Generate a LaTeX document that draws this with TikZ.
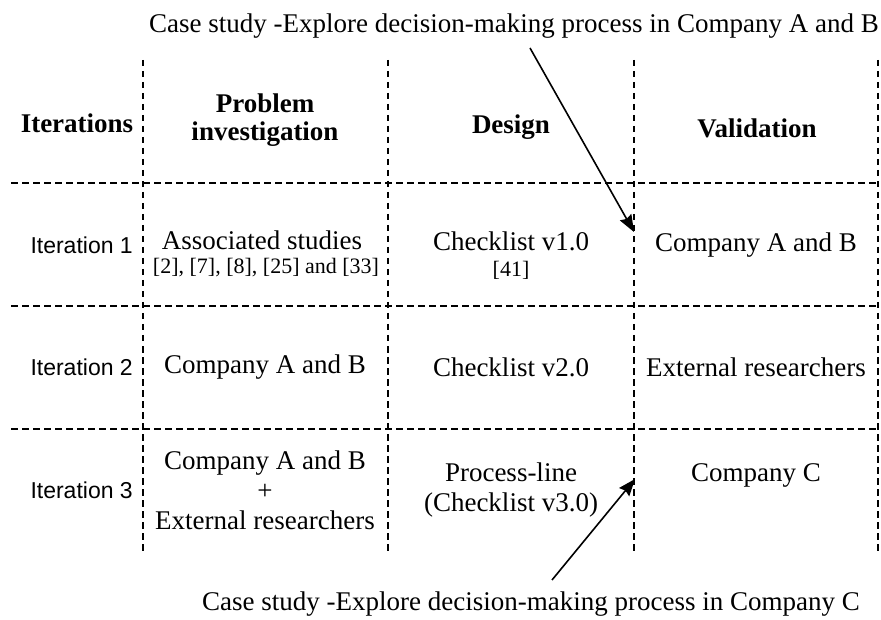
\documentclass[tikz,border=0pt]{standalone}
\usepackage{fontspec}
\setmainfont{Liberation Serif}
\newfontfamily\itfont{Liberation Sans}
\usetikzlibrary{arrows.meta}
\tikzset{
  grid/.style={line width=1.3pt, dash pattern=on 6.5pt off 4.5pt},
  body/.style={inner sep=0pt, align=center, font=\fontsize{27}{30}\selectfont},
  head/.style={inner sep=0pt, align=center, font=\fontsize{27}{28}\selectfont\bfseries},
  refs/.style={inner sep=0pt, align=center, font=\fontsize{22}{24}\selectfont},
  iterlab/.style={inner sep=0pt, anchor=east, font=\fontsize{23}{26}\selectfont\itfont},
  pointer/.style={line width=1.6pt, -{Stealth[length=17pt,width=13pt,inset=2pt]}}
}
\begin{document}
\begin{tikzpicture}[x=1pt,y=-1pt]
\useasboundingbox (0,0) rectangle (881,620);
% grid
\draw[grid] (143,60) -- (143,553);
\draw[grid] (388,60) -- (388,553);
\draw[grid] (634,60) -- (634,553);
\draw[grid] (878,60) -- (878,553);
\draw[grid] (11,183) -- (878,183);
\draw[grid] (11,306) -- (878,306);
\draw[grid] (11,429) -- (878,429);
% headers
\node[head] (hit) at (77,123) {Iterations};
\node[head] (hpi) at (265,120) {Problem\\investigation};
\node[head] (hd) at (511,127) {Design};
\node[head] (hv) at (757,128) {Validation};
% row 1
\node[iterlab] (i1) at (133,245) {Iteration 1};
\node[body] (pi1) at (262,240) {Associated studies};
\node[refs] (pi1r) at (266,268) {[2], [7], [8], [25] and [33]};
\node[body] (d1) at (511,241) {Checklist v1.0};
\node[refs] (d1r) at (511,270) {[41]};
\node[body] (v1) at (756,245) {Company A and B};
% row 2
\node[iterlab] (i2) at (133,367) {Iteration 2};
\node[body] (pi2) at (265,367) {Company A and B};
\node[body] (d2) at (511,367) {Checklist v2.0};
\node[body] (v2) at (756,367) {External researchers};
% row 3
\node[iterlab] (i3) at (133,490) {Iteration 3};
\node[body] (pi3) at (265,490) {Company A and B\\+\\External researchers};
\node[body] (d3) at (511,490) {Process-line\\(Checklist v3.0)};
\node[body] (v3) at (756,475) {Company C};
% case study labels
\node[body] (top) at (514,26) {Case study -Explore decision-making process in Company A and B};
\node[body] (bot) at (531,604) {Case study -Explore decision-making process in Company C};
\coordinate (a1s) at (530,48);
\coordinate (a1e) at (634,232);
\coordinate (a2s) at (552,580);
\coordinate (a2e) at (635,479);
\draw[pointer] (a1s) -- (a1e);
\draw[pointer] (a2s) -- (a2e);
\end{tikzpicture}
\end{document}
